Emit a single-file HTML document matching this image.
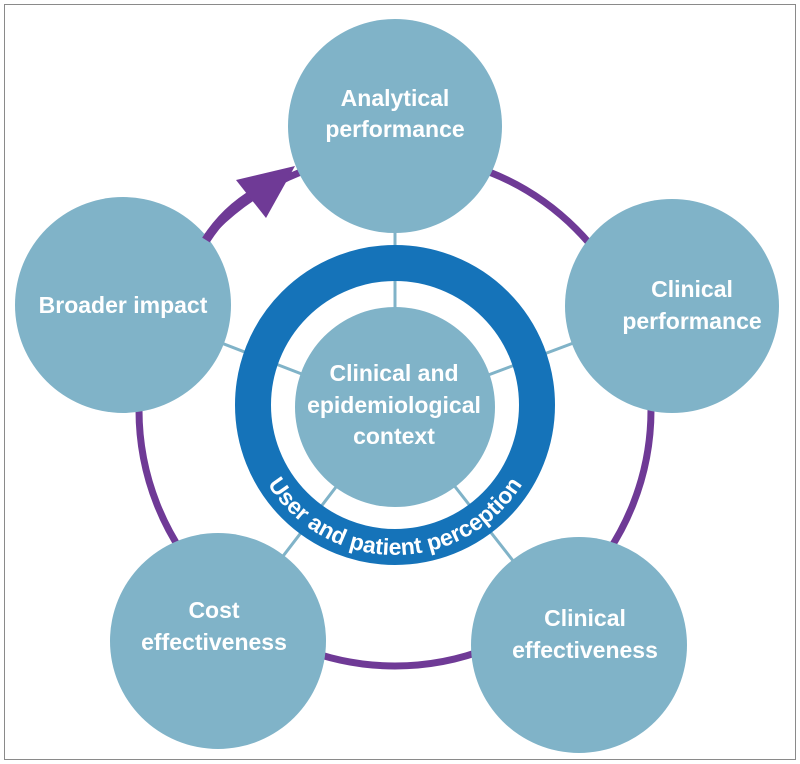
<!DOCTYPE html>
<html><head><meta charset="utf-8"><style>
html,body{margin:0;padding:0;background:#fff}
svg{display:block}
text{font-family:"Liberation Sans",Arial,sans-serif;font-weight:bold;fill:#fff}
</style></head><body>
<svg width="800" height="764" viewBox="0 0 800 764" xmlns="http://www.w3.org/2000/svg">
<rect x="4.5" y="4.5" width="791" height="755" fill="#fff" stroke="#8a8a8a" stroke-width="1"/>
<circle cx="395" cy="410" r="256" fill="none" stroke="#6f3a96" stroke-width="7"/>
<g stroke="#80b3c8" stroke-width="3">
<line x1="395" y1="410" x2="395" y2="126"/>
<line x1="395" y1="410" x2="672" y2="306"/>
<line x1="395" y1="410" x2="123" y2="305"/>
<line x1="395" y1="410" x2="218" y2="641"/>
<line x1="395" y1="410" x2="579" y2="645"/>
</g>
<circle cx="395" cy="405" r="142" fill="none" stroke="#1573b9" stroke-width="36"/>
<circle cx="395" cy="407" r="100" fill="#80b3c8"/>
<g fill="#80b3c8">
<circle cx="395" cy="126" r="107"/>
<circle cx="672" cy="306" r="107"/>
<circle cx="123" cy="305" r="108"/>
<circle cx="218" cy="641" r="108"/>
<circle cx="579" cy="645" r="108"/>
</g>
<path d="M206,240 Q225,210 256,192" fill="none" stroke="#6f3a96" stroke-width="9"/>
<polygon points="295,166 236,180 266,218" fill="#6f3a96"/>
<g font-size="23" text-anchor="middle">
<text x="395" y="106">Analytical</text><text x="395" y="137">performance</text>
<text x="692" y="297">Clinical</text><text x="692" y="329">performance</text>
<text x="123" y="313">Broader impact</text>
<text x="214" y="618">Cost</text><text x="214" y="650">effectiveness</text>
<text x="585" y="626">Clinical</text><text x="585" y="658">effectiveness</text>
<text x="394" y="381">Clinical and</text><text x="394" y="413">epidemiological</text><text x="394" y="444">context</text>
</g>
<defs><path id="arc" d="M245,405 A150,150 0 0 0 545,405"/></defs>
<text font-size="23"><textPath href="#arc" startOffset="50%" text-anchor="middle">User and patient perception</textPath></text>
</svg>
</body></html>
